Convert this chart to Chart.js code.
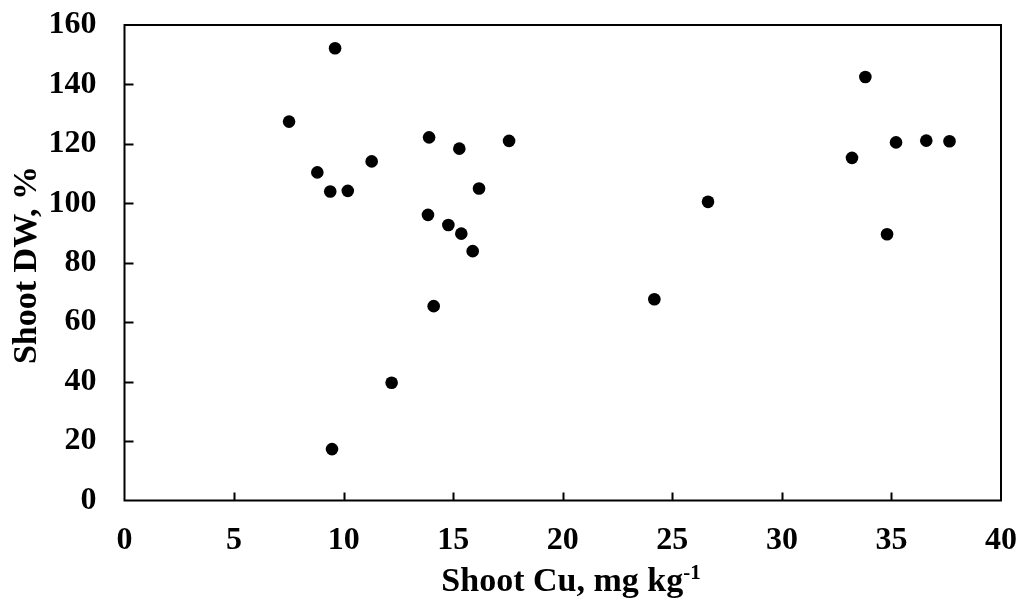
<!DOCTYPE html>
<html>
<head>
<meta charset="utf-8">
<script src="https://cdn.jsdelivr.net/npm/chart.js@4"></script>
<style>
  html, body { margin: 0; padding: 0; background: #fff; }
  #wrap { width: 1021px; height: 606px; position: relative; }
</style>
</head>
<body>
<div id="wrap"><canvas id="c" width="1021" height="606"></canvas></div>
<script>
const shootCu = [7.51, 8.80, 9.39, 9.61, 9.47, 10.19, 11.28, 12.19, 13.90, 13.85, 14.11, 14.78, 15.28, 15.37, 15.89, 16.18, 17.55, 24.18, 26.63, 33.20, 33.81, 34.80, 35.21, 36.59, 37.65];
const shootDW = [127.5, 110.4, 104.0, 152.2, 17.3, 104.2, 114.1, 39.6, 122.2, 96.1, 65.4, 92.7, 118.4, 89.8, 83.9, 105.0, 121.0, 67.7, 100.5, 115.3, 142.5, 89.6, 120.5, 121.1, 120.9];
const xTicks = [0, 5, 10, 15, 20, 25, 30, 35, 40];
const yTicks = [0, 20, 40, 60, 80, 100, 120, 140, 160];
const xTitle = "Shoot Cu, mg kg";
const xTitleSup = "-1";
const yTitle = "Shoot DW, %";

const FONT = "'Liberation Serif', 'Times New Roman', serif";

const points = shootCu.map((x, i) => ({ x: x, y: shootDW[i] }));

const framePlugin = {
  id: 'frame',
  afterDraw(chart) {
    const ctx = chart.ctx;
    const a = chart.chartArea;
    const xs = chart.scales.x, ys = chart.scales.y;
    ctx.save();
    ctx.strokeStyle = '#000';
    ctx.lineWidth = 2;
    ctx.strokeRect(a.left, a.top, a.right - a.left, a.bottom - a.top);
    // inward ticks
    ctx.beginPath();
    xTicks.forEach(v => {
      if (v === xTicks[0] || v === xTicks[xTicks.length - 1]) return;
      const px = Math.round(xs.getPixelForValue(v)) + 0.5;
      ctx.moveTo(px, a.bottom);
      ctx.lineTo(px, a.bottom - 8);
    });
    yTicks.forEach(v => {
      if (v === yTicks[0] || v === yTicks[yTicks.length - 1]) return;
      const py = Math.round(ys.getPixelForValue(v)) + 0.5;
      ctx.moveTo(a.left, py);
      ctx.lineTo(a.left + 9, py);
    });
    ctx.stroke();

    // titles
    ctx.fillStyle = '#000';
    ctx.font = "bold 34px " + FONT;
    ctx.textBaseline = 'alphabetic';
    const mainW = ctx.measureText(xTitle).width;
    ctx.font = "bold 21px " + FONT;
    const supW = ctx.measureText(xTitleSup).width;
    const total = mainW + supW;
    const cx = 571;
    let sx = cx - total / 2;
    const by = 591;
    ctx.font = "bold 34px " + FONT;
    ctx.textAlign = 'left';
    ctx.fillText(xTitle, sx, by);
    ctx.font = "bold 21px " + FONT;
    ctx.fillText(xTitleSup, sx + mainW, by - 12);

    ctx.translate(36, 265);
    ctx.rotate(-Math.PI / 2);
    ctx.font = "bold 34px " + FONT;
    ctx.textAlign = 'center';
    ctx.fillText(yTitle, 0, 0);
    ctx.restore();
  }
};

new Chart(document.getElementById('c'), {
  type: 'scatter',
  data: {
    datasets: [{
      data: points,
      backgroundColor: '#000',
      borderColor: '#000',
      pointRadius: 6.3,
      pointHoverRadius: 6.3,
      borderWidth: 0
    }]
  },
  options: {
    responsive: false,
    animation: false,
    events: [],
    layout: { padding: { top: 25, right: 20, left: 0, bottom: 0 } },
    plugins: { legend: { display: false }, tooltip: { enabled: false } },
    scales: {
      x: {
        type: 'linear',
        min: 0, max: 40,
        afterFit(s) { s.height = 105.5; s.paddingLeft = 0; s.paddingRight = 0; },
        afterBuildTicks(s) { s.ticks = xTicks.map(v => ({ value: v })); },
        grid: { display: false, drawTicks: false },
        border: { display: false },
        ticks: { color: '#000', font: { family: FONT, size: 32, weight: 'bold' }, padding: 21, maxRotation: 0, autoSkip: false }
      },
      y: {
        type: 'linear',
        min: 0, max: 160,
        afterFit(s) { s.width = 124.5; s.paddingTop = 0; s.paddingBottom = 0; },
        afterBuildTicks(s) { s.ticks = yTicks.map(v => ({ value: v })); },
        grid: { display: false, drawTicks: false },
        border: { display: false },
        ticks: { color: '#000', font: { family: FONT, size: 32, weight: 'bold' }, padding: 28, autoSkip: false }
      }
    }
  },
  plugins: [framePlugin]
});
</script>
</body>
</html>
